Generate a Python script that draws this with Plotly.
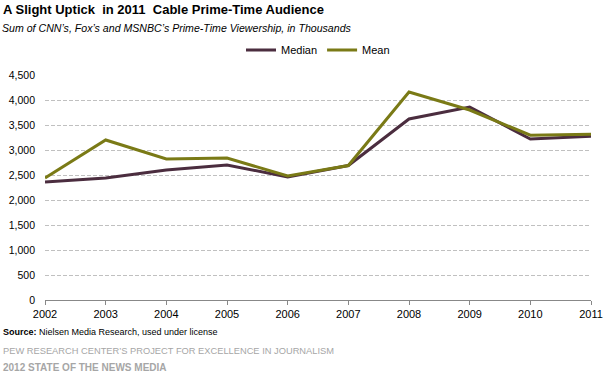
import plotly.graph_objects as go

years = ["2002", "2003", "2004", "2005", "2006", "2007", "2008", "2009", "2010", "2011"]
median = [2360, 2440, 2600, 2700, 2460, 2690, 3620, 3860, 3220, 3275]
mean = [2440, 3200, 2820, 2840, 2480, 2690, 4160, 3800, 3295, 3315]
y_ticks = [0, 500, 1000, 1500, 2000, 2500, 3000, 3500, 4000, 4500]

W, H = 607, 376
L, R, T, B = 45, 16, 75, 76
PW = W - L - R
PH = H - T - B

def px(x):
    return (x - L) / PW

def py(y):
    return (H - B - y) / PH

FONT = "Liberation Sans, Arial, sans-serif"

fig = go.Figure()
fig.add_trace(go.Scatter(x=years, y=median, name="Median", mode="lines",
                         line=dict(color="#4b2d3f", width=3)))
fig.add_trace(go.Scatter(x=years, y=mean, name="Mean", mode="lines",
                         line=dict(color="#7a7a16", width=3)))

XT = 0.5
annots = [
    dict(text="<b>A Slight Uptick  in 2011  Cable Prime-Time Audience</b>", x=px(XT), y=py(9),
         font=dict(size=13, color="#000")),
    dict(text="<i>Sum of CNN’s, Fox’s and MSNBC’s Prime-Time Viewership, in Thousands</i>",
         x=px(XT - 0.5), y=py(28), font=dict(size=10.6, color="#000")),
    dict(text="<b>Source:</b> Nielsen Media Research, used under license", x=px(XT), y=py(332),
         font=dict(size=9, color="#000")),
    dict(text="PEW RESEARCH CENTER’S PROJECT FOR EXCELLENCE IN JOURNALISM", x=px(XT), y=py(351),
         font=dict(size=9.3, color="#a6a6a6")),
    dict(text="<b>2012 STATE OF THE NEWS MEDIA</b>", x=px(XT), y=py(367),
         font=dict(size=10, color="#a6a6a6")),
]
for a in annots:
    fig.add_annotation(xref="paper", yref="paper", xanchor="left", yanchor="middle",
                       showarrow=False, font_family=FONT, **a)

fig.update_layout(
    width=W, height=H,
    margin=dict(l=L, r=R, t=T, b=B, autoexpand=False),
    paper_bgcolor="white", plot_bgcolor="white",
    font=dict(family=FONT, size=11, color="#000"),
    showlegend=True,
    legend=dict(orientation="h", x=0.5, xanchor="center", y=py(50), yanchor="middle",
                font=dict(size=11), itemwidth=30, tracegroupgap=0,
                bgcolor="rgba(0,0,0,0)"),
    xaxis=dict(type="category", range=[0, 9], showgrid=False, showline=True,
               linecolor="#888", linewidth=1, ticks="outside", ticklen=4, tickcolor="#888",
               tickfont=dict(size=11), zeroline=False, fixedrange=True, automargin=False),
    yaxis=dict(range=[0, 4500], tickvals=y_ticks, tickformat=",", showgrid=True,
               gridcolor="#c0c0c0", griddash="4px,2px", gridwidth=1, showline=False,
               zeroline=False, tickfont=dict(size=10.5), ticklabelstandoff=9, fixedrange=True,
               automargin=False),
)

fig.write_html("out.html", config={"displayModeBar": False},
               post_script="document.body.style.margin='0';document.body.style.overflow='hidden';")
